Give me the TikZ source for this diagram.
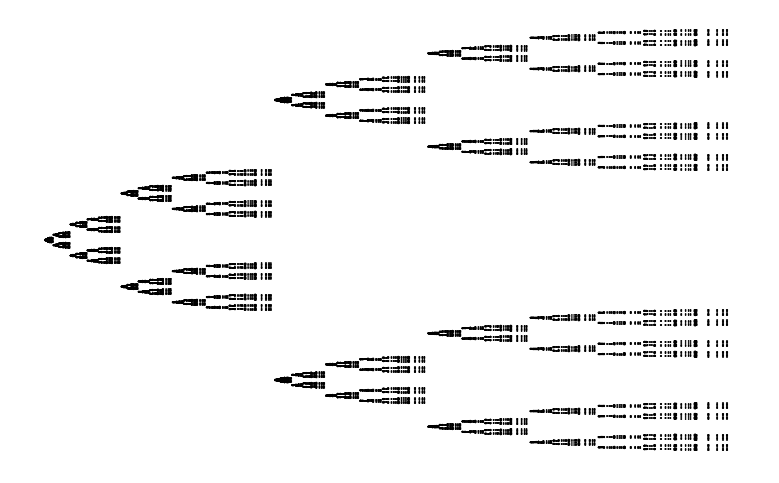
\documentclass[tikz,border=0pt]{standalone}
\tikzset{ifsink/.style={line width=2pt,line cap=round,line join=round}}
\newcommand\ifsleaf{\draw[ifsink] (0,0) -- (34,0) (230,0) -- (238,0) (383,0) -- (387,0) (485,0) -- (487,0) (553,0) -- (554,0);}
\newcommand\ifspiece[2]{%
  \ifdim#2<690pt \filldraw[ifsink] (0,0) -- (20,-7) -- (20,7) -- cycle;\fi
  \ifnum#1=0 \ifsleaf\else\ifdim#2<1.5pt \ifsleaf\else
    \edef\ifsargs{{\the\numexpr#1-1\relax}{\the\dimexpr#2/3\relax}}%
    \begin{scope}[scale=1/3]\expandafter\ifspiece\ifsargs\end{scope}%
    \edef\ifsargs{{\the\numexpr#1-1\relax}{\the\dimexpr#2*2/3\relax}}%
    \begin{scope}[shift={(230,-140)},xscale=2/3,yscale=1/3]\expandafter\ifspiece\ifsargs\end{scope}%
    \begin{scope}[shift={(230,140)},xscale=2/3,yscale=1/3]\expandafter\ifspiece\ifsargs\end{scope}%
  \fi\fi}
\begin{document}
\begin{tikzpicture}[x=1pt,y=-1pt]
\useasboundingbox (0,0) rectangle (779,482);
\begin{scope}[shift={(45,240)}]
\ifspiece{7}{690pt}
\end{scope}
\end{tikzpicture}
\end{document}
